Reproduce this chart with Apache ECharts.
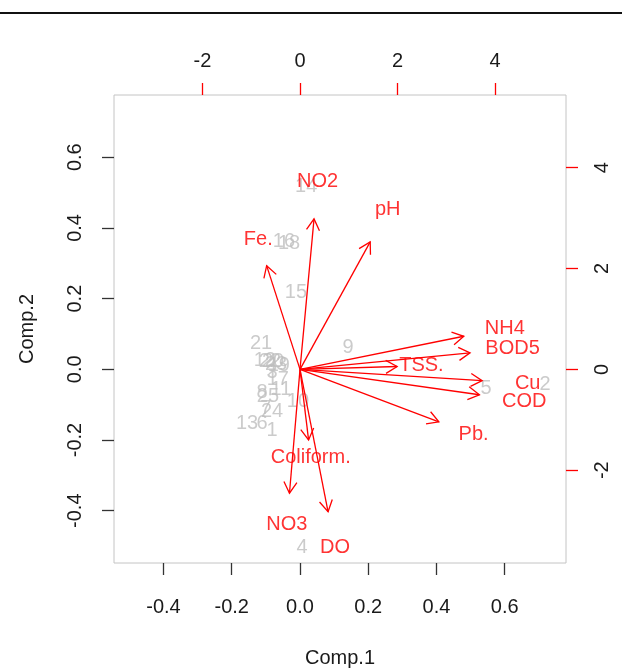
<!DOCTYPE html>
<html>
<head>
<meta charset="utf-8">
<script src="https://cdn.jsdelivr.net/npm/echarts@6/dist/echarts.min.js"></script>
<style>
html,body{margin:0;padding:0;background:#fff;}
#chart{width:622px;height:668px;}
</style>
</head>
<body>
<div id="chart"></div>
<script>
// Observation scores (grey numbers) on Comp.1 / Comp.2 (bottom/left axes)
const obsNames = ['1','2','3','4','5','6','7','8','9','10','11','12','13','14','15','16','17','18','19','20','21','22','23','24','25'];
const obsComp1 = [-0.082, 0.718, -0.082, 0.006, 0.545, -0.111, -0.100, -0.111, 0.141, -0.006, -0.056, -0.103, -0.155, 0.018, -0.012, -0.047, -0.065, -0.032, -0.062, -0.079, -0.114, -0.088, -0.070, -0.082, -0.094];
const obsComp2 = [-0.172, -0.042, -0.008, -0.503, -0.053, -0.152, -0.112, -0.067, 0.063, -0.092, -0.058, 0.026, -0.152, 0.516, 0.216, 0.363, -0.030, 0.357, 0.012, 0.021, 0.074, 0.023, 0.015, -0.118, -0.076];

// Variable loadings (red arrows) on top/right axes
const varNames = ['NO2', 'pH', 'Fe.', 'NH4', 'BOD5', 'TSS.', 'Cu', 'COD', 'Pb.', 'Coliform.', 'NO3', 'DO'];
const varComp1 = [0.36, 1.80, -0.855, 4.20, 4.36, 2.49, 4.67, 4.60, 3.56, 0.22, -0.27, 0.72];
const varComp2 = [3.73, 3.16, 2.57, 0.82, 0.41, 0.07, -0.28, -0.63, -1.30, -1.75, -3.07, -3.53];

// Tick labels
const ticksPrimary = [-0.4, -0.2, 0.0, 0.2, 0.4, 0.6];
const ticksSecondary = [-2, 0, 2, 4];

// biplot draws arrows to 0.8 of the loading, labels at the loading
const ARROW_FRACTION = 0.8;

const FONT = '"Liberation Sans", Arial, sans-serif';
const RED = '#FF0000';
const GREY = '#BEBEBE';
const TXT = '#1a1a1a';

const chart = echarts.init(document.getElementById('chart'), null, {renderer: 'canvas'});

const obsData = obsNames.map((n, i) => ({name: n, value: [obsComp1[i], obsComp2[i]]}));
const varData = varNames.map((n, i) => ({name: n, value: [varComp1[i], varComp2[i]]}));

const noLine = {show: false, onZero: false};

const option = {
  animation: false,
  backgroundColor: '#fff',
  textStyle: {fontFamily: FONT},
  grid: {left: 114, right: 56, top: 95, bottom: 105, containLabel: false, outerBoundsMode: 'none',
    show: true, borderColor: '#c4c4c4', borderWidth: 1, backgroundColor: 'transparent'},
  xAxis: [
    {
      type: 'value', position: 'bottom', min: -0.545, max: 0.7795,
      name: 'Comp.1', nameLocation: 'middle', nameGap: 85,
      nameTextStyle: {fontSize: 20, color: TXT, fontFamily: FONT},
      axisLine: noLine,
      splitLine: {show: false},
      axisTick: {show: true, inside: false, length: 12, customValues: ticksPrimary, lineStyle: {color: '#333', width: 1.3}},
      axisLabel: {show: true, customValues: ticksPrimary, margin: 34, fontSize: 20, color: TXT, fontFamily: FONT,
        formatter: v => v.toFixed(1)}
    },
    {
      type: 'value', position: 'top', min: -3.815, max: 5.456,
      axisLine: noLine,
      splitLine: {show: false},
      axisTick: {show: true, inside: false, length: 12, customValues: ticksSecondary, lineStyle: {color: RED, width: 1.3}},
      axisLabel: {show: true, customValues: ticksSecondary, margin: 24, fontSize: 20, color: TXT, fontFamily: FONT,
        formatter: v => String(v)}
    }
  ],
  yAxis: [
    {
      type: 'value', position: 'left', min: -0.548, max: 0.776,
      name: 'Comp.2', nameLocation: 'middle', nameGap: 77, nameRotate: 90,
      nameTextStyle: {fontSize: 20, color: TXT, fontFamily: FONT},
      axisLine: noLine,
      splitLine: {show: false},
      axisTick: {show: true, inside: false, length: 12, customValues: ticksPrimary, lineStyle: {color: '#333', width: 1.3}},
      axisLabel: {show: true, customValues: ticksPrimary, margin: 29, rotate: 90, align: 'center', verticalAlign: 'bottom',
        fontSize: 20, color: TXT, fontFamily: FONT, formatter: v => v.toFixed(1)}
    },
    {
      type: 'value', position: 'right', min: -3.84, max: 5.44,
      axisLine: noLine,
      splitLine: {show: false},
      axisTick: {show: true, inside: false, length: 12, customValues: ticksSecondary, lineStyle: {color: RED, width: 1.3}},
      axisLabel: {show: true, customValues: ticksSecondary, margin: 26, rotate: 90, align: 'center', verticalAlign: 'top',
        fontSize: 20, color: TXT, fontFamily: FONT, formatter: v => String(v)}
    }
  ],
  graphic: [
    {type: 'line', shape: {x1: 0, y1: 13, x2: 622, y2: 13}, style: {stroke: '#111', lineWidth: 2}, silent: true}
  ],
  series: [
    {
      name: 'scores', type: 'scatter', xAxisIndex: 0, yAxisIndex: 0,
      data: obsData, symbol: 'circle', symbolSize: 2, itemStyle: {color: 'rgba(0,0,0,0)'}, z: 2,
      label: {show: true, position: 'inside', formatter: p => p.name, fontSize: 20, color: GREY, fontFamily: FONT},
      labelLayout: {hideOverlap: false}
    },
    {
      name: 'arrows', type: 'custom', xAxisIndex: 1, yAxisIndex: 1, z: 3,
      data: varData.map(d => d.value),
      renderItem: function (params, api) {
        const o = api.coord([0, 0]);
        const t = api.coord([api.value(0) * ARROW_FRACTION, api.value(1) * ARROW_FRACTION]);
        const ang = Math.atan2(t[1] - o[1], t[0] - o[0]);
        const L = 13, A = Math.PI / 6;
        const h1 = [t[0] - L * Math.cos(ang - A), t[1] - L * Math.sin(ang - A)];
        const h2 = [t[0] - L * Math.cos(ang + A), t[1] - L * Math.sin(ang + A)];
        const st = {stroke: RED, lineWidth: 1.3, fill: null};
        return {
          type: 'group',
          children: [
            {type: 'line', shape: {x1: o[0], y1: o[1], x2: t[0], y2: t[1]}, style: st},
            {type: 'polyline', shape: {points: [h1, t, h2]}, style: st}
          ]
        };
      }
    },
    {
      name: 'variables', type: 'scatter', xAxisIndex: 1, yAxisIndex: 1,
      data: varData, symbol: 'circle', symbolSize: 2, itemStyle: {color: 'rgba(0,0,0,0)'}, z: 4,
      label: {show: true, position: 'inside', formatter: p => p.name, fontSize: 20, color: RED, fontFamily: FONT},
      labelLayout: {hideOverlap: false}
    }
  ]
};
chart.setOption(option);
</script>
</body>
</html>
